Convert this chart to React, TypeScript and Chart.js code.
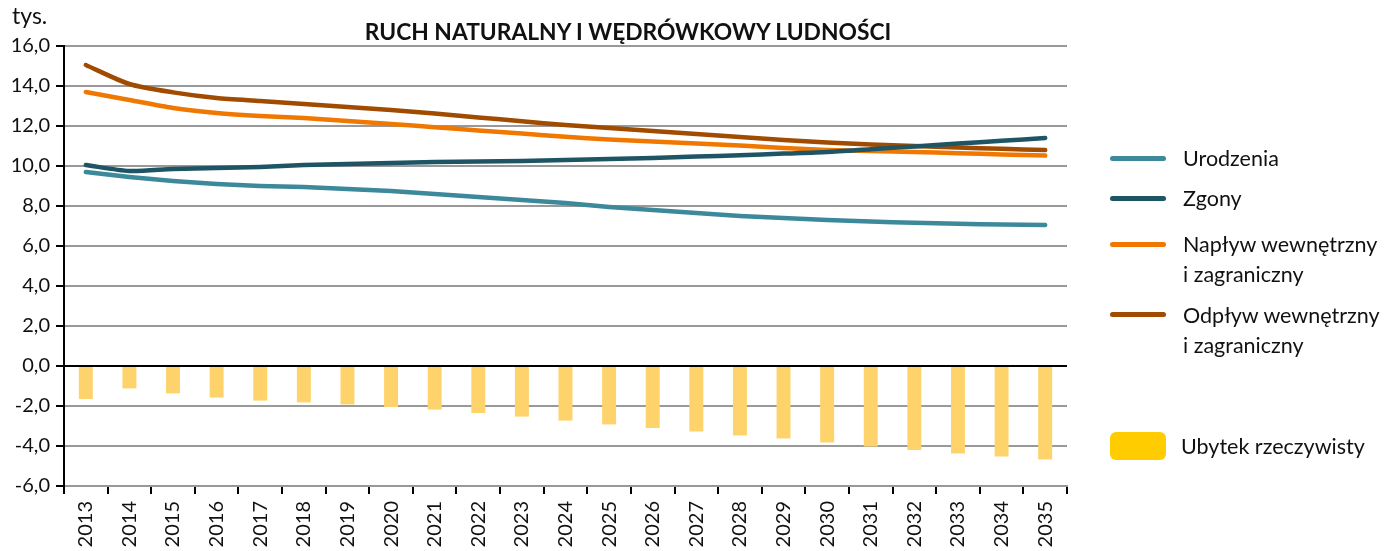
import React, { useEffect, useRef } from "react";
import { Chart, registerables } from "chart.js";

Chart.register(...registerables);

const years = ["2013","2014","2015","2016","2017","2018","2019","2020","2021","2022","2023","2024","2025","2026","2027","2028","2029","2030","2031","2032","2033","2034","2035"];
const urodzenia = [9.7,9.45,9.25,9.1,9.0,8.95,8.85,8.75,8.6,8.45,8.3,8.15,7.95,7.8,7.65,7.5,7.4,7.3,7.22,7.16,7.11,7.07,7.05];
const zgony = [10.05,9.75,9.85,9.9,9.95,10.05,10.1,10.15,10.2,10.22,10.25,10.3,10.35,10.4,10.47,10.54,10.62,10.7,10.84,10.98,11.12,11.26,11.4];
const naplyw = [13.7,13.3,12.9,12.65,12.5,12.4,12.25,12.1,11.94,11.78,11.62,11.46,11.33,11.23,11.13,11.02,10.9,10.8,10.75,10.7,10.64,10.58,10.52];
const odplyw = [15.05,14.1,13.68,13.4,13.25,13.1,12.95,12.8,12.62,12.43,12.24,12.05,11.9,11.75,11.6,11.45,11.3,11.18,11.08,11.0,10.92,10.86,10.8];
const ubytek = [-1.65,-1.12,-1.37,-1.58,-1.73,-1.82,-1.92,-2.05,-2.18,-2.35,-2.53,-2.73,-2.92,-3.1,-3.28,-3.47,-3.63,-3.82,-4.02,-4.2,-4.38,-4.53,-4.67];

const C_URO = "#3C899B";
const C_ZGO = "#1E5564";
const C_NAP = "#F07800";
const C_ODP = "#A04B00";
const C_BAR = "#FFD36B";
const C_BOX = "#FFCC00";

const FONT = "Lato, 'Open Sans', sans-serif";

export default function App() {
  const ref = useRef<HTMLCanvasElement | null>(null);
  useEffect(() => {
    if (!ref.current) return;
    const line = (label: string, data: number[], color: string) => ({
      type: "line" as const,
      label,
      data,
      borderColor: color,
      backgroundColor: color,
      borderWidth: 4.5,
      pointRadius: 0,
      tension: 0.25,
      borderCapStyle: "round" as const,
      order: 1,
    });
    const chart = new Chart(ref.current, {
      type: "bar",
      data: {
        labels: years,
        datasets: [
          line("Urodzenia", urodzenia, C_URO),
          line("Zgony", zgony, C_ZGO),
          line("Napływ wewnętrzny i zagraniczny", naplyw, C_NAP),
          line("Odpływ wewnętrzny i zagraniczny", odplyw, C_ODP),
          {
            type: "bar" as const,
            label: "Ubytek rzeczywisty",
            data: ubytek,
            backgroundColor: C_BAR,
            categoryPercentage: 1,
            barPercentage: 0.32,
            order: 2,
          },
        ],
      },
      options: {
        animation: false,
        responsive: false,
        maintainAspectRatio: false,
        layout: { padding: { left: 8, right: 330, top: 46, bottom: 0 } },
        plugins: { legend: { display: false }, tooltip: { enabled: false }, title: { display: false } },
        scales: {
          x: {
            offset: true,
            grid: { display: true, drawOnChartArea: false, drawTicks: true, tickLength: 8, tickColor: "#000", lineWidth: 2, offset: true },
            border: { display: true, color: "#999", width: 2 },
            ticks: { minRotation: 90, maxRotation: 90, autoSkip: false, color: "#111", font: { family: FONT, size: 20 }, padding: 7 },
            afterFit: (s: any) => { s.height = 65; },
          },
          y: {
            min: -6,
            max: 16,
            ticks: {
              stepSize: 2,
              color: "#111",
              font: { family: FONT, size: 20 },
              padding: 6,
              callback: (v: any) => Number(v).toFixed(1).replace(".", ","),
            },
            grid: {
              color: (c: any) => (c.tick && c.tick.value === 0 ? "#000" : "#999"),
              lineWidth: 2,
              drawTicks: true,
              tickLength: 8,
              tickColor: "#000",
            },
            border: { display: true, color: "#000", width: 2 },
            afterFit: (s: any) => { s.width = 56; },
          },
        },
      },
    });
    return () => chart.destroy();
  }, []);

  const legendText: React.CSSProperties = { position: "absolute", left: 1183, fontFamily: FONT, fontSize: 21.5, color: "#111", lineHeight: "30px", whiteSpace: "nowrap" };
  const sw = (top: number, color: string): React.CSSProperties => ({ position: "absolute", left: 1110, top, width: 56, height: 5, borderRadius: 3, background: color });

  return (
    <div style={{ position: "fixed", left: 0, top: 0, width: 1397, height: 551, background: "#fff", overflow: "hidden" }}>
      <canvas ref={ref} width={1397} height={551} style={{ position: "absolute", left: 0, top: 0 }} />
      <div style={{ position: "absolute", left: 12, top: 1, fontFamily: FONT, fontSize: 23, color: "#111" }}>tys.</div>
      <div style={{ position: "absolute", left: 278, width: 700, top: 17, textAlign: "center", fontFamily: FONT, fontWeight: 700, fontSize: 22.8, color: "#111" }}>
        RUCH NATURALNY I WĘDRÓWKOWY LUDNOŚCI
      </div>
      <div style={sw(156, C_URO)} />
      <div style={{ ...legendText, top: 143 }}>Urodzenia</div>
      <div style={sw(196, C_ZGO)} />
      <div style={{ ...legendText, top: 183 }}>Zgony</div>
      <div style={sw(242, C_NAP)} />
      <div style={{ ...legendText, top: 229 }}>Napływ wewnętrzny<br />i zagraniczny</div>
      <div style={sw(312, C_ODP)} />
      <div style={{ ...legendText, top: 300 }}>Odpływ wewnętrzny<br />i zagraniczny</div>
      <div style={{ position: "absolute", left: 1110, top: 432, width: 56, height: 28, borderRadius: 6, background: C_BOX }} />
      <div style={{ ...legendText, top: 431, left: 1181 }}>Ubytek rzeczywisty</div>
    </div>
  );
}
